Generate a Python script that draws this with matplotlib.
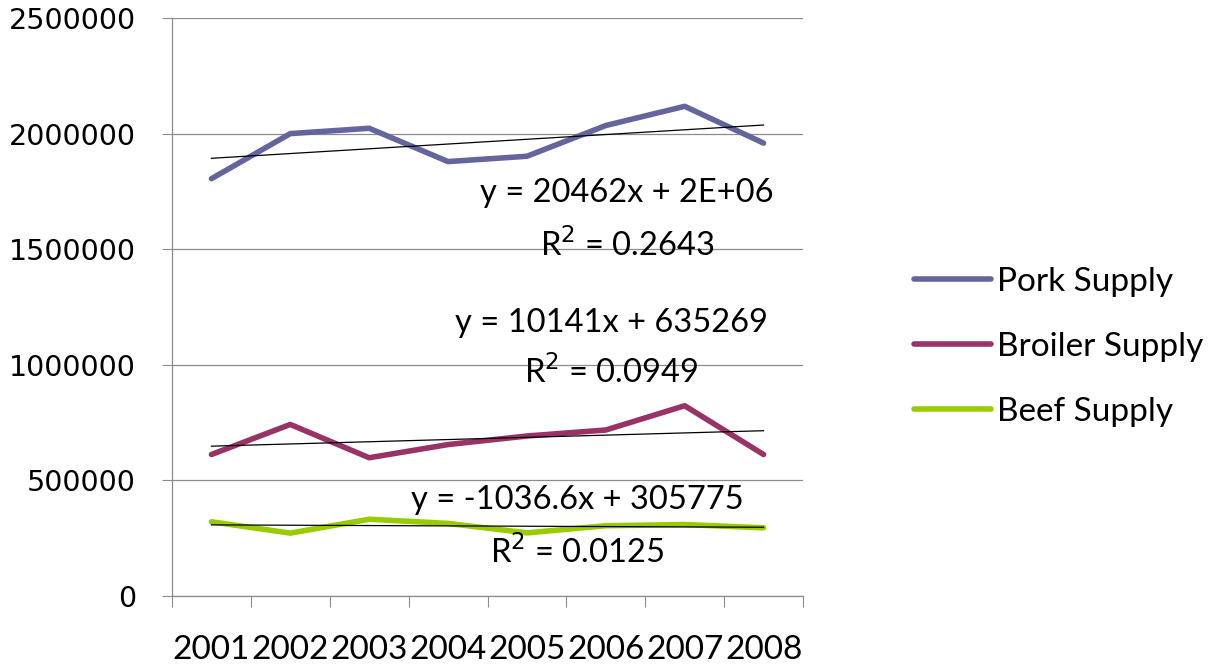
import matplotlib
matplotlib.use('Agg')
import matplotlib.pyplot as plt
import numpy as np

# Data
years = ['2001', '2002', '2003', '2004', '2005', '2006', '2007', '2008']
pork = [1805000, 2000000, 2023000, 1879000, 1902000, 2035000, 2118000, 1959000]
broiler = [612000, 742000, 598000, 655000, 692000, 718000, 823000, 612000]
beef = [321000, 272000, 332000, 314000, 273000, 304000, 309000, 295000]

series_names = ['Pork Supply', 'Broiler Supply', 'Beef Supply']
series_colors = ['#65659E', '#993366', '#99CC00']
trend_labels = [
    ('y = 20462x + 2E+06', '0.2643'),
    ('y = 10141x + 635269', '0.0949'),
    ('y = -1036.6x + 305775', '0.0125'),
]
# label centres in pixels (x, y of equation, y of R²)
label_pos = [(627, 193, 245), (611, 323, 372), (577, 500, 552)]

W, H = 1222, 667
fig = plt.figure(figsize=(W / 100, H / 100), dpi=100)
ax = fig.add_axes([172 / W, 1 - 596 / H, (803 - 172) / W, (596 - 18) / H])

x = np.arange(1, len(years) + 1)
handles = []
for vals, name, col in zip([pork, broiler, beef], series_names, series_colors):
    h, = ax.plot(x, vals, color=col, linewidth=4, solid_capstyle='round',
                 solid_joinstyle='round', label=name, zorder=3)
    handles.append(h)
    # linear trendline
    k, b = np.polyfit(x, vals, 1)
    ax.plot(x, k * x + b, color='black', linewidth=0.9, zorder=4)

ax.set_xlim(0.5, len(years) + 0.5)
ax.set_ylim(0, 2500000)
ax.set_yticks(np.arange(0, 2500001, 500000))
ax.set_yticklabels([str(v) for v in range(0, 2500001, 500000)], fontsize=20.5,
                   family='DejaVu Sans')
ax.yaxis.grid(True, color='#8C8C8C', linewidth=0.9)
ax.set_axisbelow(True)

# category boundaries as major ticks, labels on centres
ax.set_xticks(np.arange(0.5, len(years) + 1, 1))
ax.set_xticklabels([])
ax.set_xticks(x, minor=True)
ax.set_xticklabels(years, minor=True, fontsize=24, family='Lato')
ax.tick_params(axis='x', which='major', length=8, color='#8C8C8C', direction='out')
ax.tick_params(axis='x', which='minor', length=0, pad=28)
ax.tick_params(axis='y', length=7, color='#8C8C8C', direction='out', pad=19)

for s in ['top', 'right']:
    ax.spines[s].set_visible(False)
for s in ['left', 'bottom']:
    ax.spines[s].set_color('#8C8C8C')
    ax.spines[s].set_linewidth(0.9)

for (eq, r2), (px, py1, py2) in zip(trend_labels, label_pos):
    fig.text(px / W, 1 - py1 / H, eq, ha='center', va='center', fontsize=23.5,
             family='Lato')
    fig.text(px / W, 1 - py2 / H, r'R$^{2}$ = ' + r2, ha='center', va='center',
             fontsize=23.5, family='Lato')

fig.legend(handles=handles, labels=series_names, loc='center left',
           bbox_to_anchor=(884 / W, 1 - 347 / H), frameon=False,
           prop={'family': 'Lato', 'size': 24}, handlelength=2.3,
           handletextpad=0.2, labelspacing=1.05)

fig.savefig('out.png', dpi=100)
plt.close(fig)
